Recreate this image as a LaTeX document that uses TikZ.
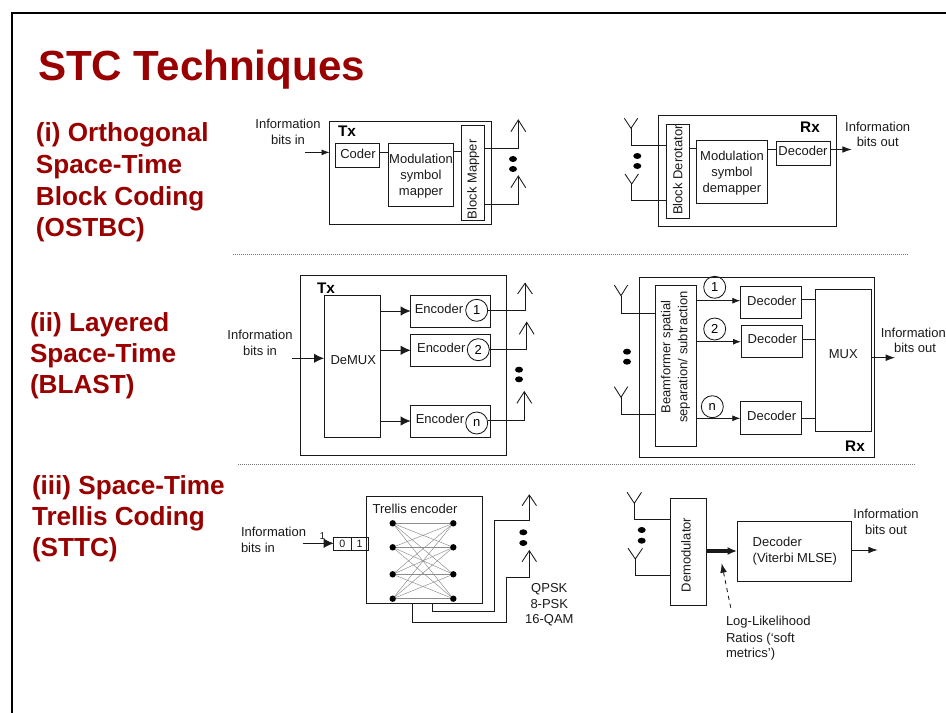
\documentclass[tikz,border=0pt]{standalone}
\usepackage{fontspec}
\setmainfont{Liberation Sans}
\usetikzlibrary{arrows.meta,calc}
\definecolor{headred}{HTML}{990000}
\definecolor{ink}{HTML}{1A1A1A}
\newcommand\smalltxt{\fontsize{9.75}{11.4}\selectfont}
\tikzset{
  boxn/.style={draw=ink,line width=0.65pt,inner sep=0pt,outer sep=0pt,align=center,font=\smalltxt},
  txt/.style={inner sep=0pt,outer sep=0pt,anchor=base,font=\smalltxt,text=ink},
  txtl/.style={txt,anchor=base west},
  bold/.style={inner sep=0pt,outer sep=0pt,anchor=base,font=\fontsize{11.5}{13}\selectfont\bfseries},
  head/.style={inner sep=0pt,outer sep=0pt,anchor=base west,text=headred,font=\fontsize{19.6}{23}\selectfont\bfseries},
  wire/.style={draw=ink,line width=0.65pt},
  arr/.style={wire,-{Latex[length=6pt,width=4.5pt]}},
  barr/.style={wire,-{Latex[length=7.5pt,width=7pt]}},
  circ/.style={circle,draw=ink,line width=0.65pt,inner sep=0pt,outer sep=0pt,minimum size=16.5pt,font=\smalltxt},
  tdot/.style={circle,fill=black,inner sep=0pt,outer sep=0pt,minimum size=4.8pt},
  tedge/.style={draw=black!45,line width=0.35pt},
  sep/.style={draw=black!55,line width=0.6pt,dash pattern=on 0.75pt off 0.75pt},
}
\newcommand\bx[6][]{%
  \pgfmathsetmacro\bw{((#4)-(#2))*0.75}%
  \pgfmathsetmacro\bh{((#5)-(#3))*0.75}%
  \pgfmathsetmacro\bcx{((#2)+(#4))/2}%
  \pgfmathsetmacro\bcy{((#3)+(#5))/2}%
  \node[boxn,minimum width=\bw pt,minimum height=\bh pt,#1] (#6) at (\bcx,\bcy) {};}
\newcommand\ant[5]{% name x junction-y half-width arm-y
  \coordinate (#1) at (#2,#3);
  \draw[wire] ($(#1)+(-#4,0)+(0,#5-#3)$) -- (#1) -- ($(#1)+(#4,0)+(0,#5-#3)$);}
\newcommand\twodots[3]{%
  \fill[black] (#1,#2) ellipse (4 and 3);
  \fill[black] (#1,#3) ellipse (4 and 3);}
\begin{document}
\begin{tikzpicture}[x=0.75pt,y=-0.75pt]
\useasboundingbox (0,0) rectangle (946,713);
% slide frame
\coordinate (fbl) at (12,713);
\coordinate (ftl) at (12,13);
\coordinate (ftr) at (946,13);
\draw[black,line width=1.6pt] (fbl) -- (ftl) -- (ftr);
% headings
\node[head,font=\fontsize{31.6}{36}\selectfont\bfseries] (title) at (38,81) {STC Techniques};
\node[head] (h1a) at (36,142) {(i) Orthogonal};
\node[head] (h1b) at (36,173.5) {Space-Time};
\node[head] (h1c) at (36,205) {Block Coding};
\node[head] (h1d) at (36,236) {(OSTBC)};
\node[head] (h2a) at (30,331) {(ii) Layered};
\node[head] (h2b) at (30,362) {Space-Time};
\node[head] (h2c) at (30,393) {(BLAST)};
\node[head] (h3a) at (32,494) {(iii) Space-Time};
\node[head] (h3b) at (32,525) {Trellis Coding};
\node[head] (h3c) at (32,556) {(STTC)};
% separators
\coordinate (s1a) at (233,254); \coordinate (s1b) at (909,254);
\coordinate (s2a) at (238,464); \coordinate (s2b) at (915,464);
\draw[sep] (s1a) -- (s1b);
\draw[sep] (s2a) -- (s2b);

%%% Section 1 Tx
\bx{329.5}{121.7}{491.7}{224.3}{tx1}
\bx{335.7}{143.7}{379.7}{167.3}{coder}
\bx{388.3}{143.7}{453.3}{206}{modm}
\bx{461.7}{125.7}{484.3}{220}{bmap}
\node[bold] (tx1l) at (347,136.7) {Tx};
\node[txt] (coderl) at (358,159) {Coder};
\node[txt] (modl1) at (421,164) {Modulation};
\node[txt] (modl2) at (421,180) {symbol};
\node[txt] (modl3) at (421,195.5) {mapper};
\node[txt,anchor=center,rotate=90] (bmapl) at (473.3,179.3) {Block Mapper};
\node[txt] (in1a) at (288,129) {Information};
\node[txt] (in1b) at (288,144.3) {bits in};
\coordinate (in1) at (305,152.4);
\draw[arr] (in1) -- (tx1.west |- in1);
\draw[wire] (coder.east |- 0,152.3) -- (modm.west |- 0,152.3);
\draw[wire] (modm.east |- 0,151.7) -- (bmap.west |- 0,151.7);
\ant{a1}{518.3}{120}{7.4}{131.7}
\ant{a2}{518.3}{176}{7.4}{187.7}
\draw[wire] (bmap.east |- 0,148) -| (a1);
\draw[wire] (bmap.east |- 0,204) -| (a2);
\twodots{513}{159}{169}

%%% Section 1 Rx
\bx{658}{115.3}{836.7}{226.7}{rx1}
\bx{666.3}{124.7}{689.7}{218.3}{bder}
\bx{696.7}{140.7}{767.3}{203.3}{dem}
\bx{776.7}{141.3}{830}{165.3}{dec1}
\node[bold] (rx1l) at (810,133) {Rx};
\node[txt,anchor=center,rotate=90] (bderl) at (677.7,170) {Block Derotator};
\node[txt] (deml1) at (732,160.5) {Modulation};
\node[txt] (deml2) at (732,176.5) {symbol};
\node[txt] (deml3) at (732,192.5) {demapper};
\node[txt] (dec1l) at (803,156) {Decoder};
\node[txt] (out1a) at (877.7,131.7) {Information};
\node[txt] (out1b) at (877.7,146.7) {bits out};
\draw[wire] (bder.east |- 0,148.7) -- (dem.west |- 0,148.7);
\draw[wire] (dem.east |- 0,149.3) -- (dec1.west |- 0,149.3);
\coordinate (o1) at (851.7,149.5);
\draw[arr,-{Latex[length=7pt,width=5pt]}] (dec1.east |- o1) -- (o1);
\ant{b1}{631}{128.3}{6.7}{118.3}
\ant{b2}{631.7}{184}{6.7}{174}
\draw[wire] (b1) |- (bder.west |- 0,145);
\draw[wire] (b2) |- (bder.west |- 0,200);
\twodots{637.3}{156}{166}

%%% Section 2 Tx
\bx{300.3}{275}{506.7}{455}{tx2}
\bx{324}{295.3}{380}{437.7}{demux}
\bx{410.7}{295.3}{490}{327.3}{e1}
\bx{410.7}{334.3}{490}{366.3}{e2}
\bx{410.7}{405.7}{490}{437.3}{en}
\node[bold] (tx2l) at (326,293) {Tx};
\node[txt] (demuxl) at (353.3,364.3) {DeMUX};
\node[txt] (e1l) at (439,313.3) {Encoder};
\node[txt] (e2l) at (441.3,352.7) {Encoder};
\node[txt] (enl) at (440,423.3) {Encoder};
\node[circ] (c1) at (476.7,310.3) {1};
\node[circ] (c2) at (478.3,349.7) {2};
\node[circ] (cn) at (476.7,423) {n};
\node[txt] (in2a) at (260,339) {Information};
\node[txt] (in2b) at (260,355) {bits in};
\coordinate (in2) at (292.3,358.3);
\draw[barr] (in2) -- (demux.west |- in2);
\draw[barr] (demux.east |- 0,311) -- (e1.west |- 0,311);
\draw[barr] (demux.east |- 0,350.3) -- (e2.west |- 0,350.3);
\draw[barr] (demux.east |- 0,421) -- (en.west |- 0,421);
\ant{t1}{525}{283.3}{7.4}{294}
\ant{t2}{526.7}{322.3}{7.4}{334.3}
\ant{tn}{524.3}{391.7}{7.4}{403.3}
\draw[wire] (c1.east) -| (t1);
\draw[wire] (c2.east) -| (t2);
\draw[wire] (cn.east |- 0,420) -| (tn);
\twodots{519}{369.7}{379.3}

%%% Section 2 Rx
\bx{639.7}{277}{874.3}{457.3}{rx2}
\bx{655.7}{285.3}{696.3}{446.7}{beam}
\bx{740.3}{286.3}{801.7}{318.3}{d1}
\bx{741}{325.3}{802}{357.3}{d2}
\bx{740.3}{401.7}{801.7}{434}{dn}
\bx{815.7}{289.3}{871}{431.7}{mux}
\node[bold] (rx2l) at (855,451.7) {Rx};
\node[txt,anchor=center,rotate=90] (beaml1) at (667,357) {Beamformer spatial};
\node[txt,anchor=center,rotate=90] (beaml2) at (684,357) {separation/ subtraction};
\node[txt] (d1l) at (771.7,305) {Decoder};
\node[txt] (d2l) at (772.3,343.7) {Decoder};
\node[txt] (dnl) at (771.7,420.7) {Decoder};
\node[txt] (muxl) at (843.3,358.3) {MUX};
\node[circ] (r1) at (714.7,287.3) {1};
\node[circ] (r2) at (714.7,329) {2};
\node[circ] (rn) at (712.3,406.7) {n};
\draw[arr] (beam.east |- 0,300.7) -- (d1.west |- 0,300.7);
\draw[arr] (beam.east |- 0,341.7) -- (d2.west |- 0,341.7);
\draw[arr] (beam.east |- 0,418.3) -- (dn.west |- 0,418.3);
\draw[wire] (d1.east |- 0,299) -- (mux.west |- 0,299);
\draw[wire] (d2.east |- 0,339) -- (mux.west |- 0,339);
\draw[wire] (dn.east |- 0,418.3) -- (mux.west |- 0,418.3);
\coordinate (o2) at (895,357.7);
\draw[arr,-{Latex[length=7pt,width=5pt]}] (mux.east |- o2) -- (o2);
\node[txt] (out2a) at (913.3,337) {Information};
\node[txt] (out2b) at (915,352) {bits out};
\ant{q1}{621}{295.7}{6.7}{285}
\ant{q2}{621}{397.3}{6.7}{386.7}
\draw[wire] (q1) |- (beam.west |- 0,313.3);
\draw[wire] (q2) |- (beam.west |- 0,414.7);
\twodots{627}{351.7}{361.7}

%%% Section 3 Tx
\bx{366.7}{496.7}{482.3}{603.3}{trel}
\node[txt] (trell) at (415,513.3) {Trellis encoder};
\foreach \i/\yy in {1/523.3,2/547.3,3/574.3,4/598.7}{
  \node[tdot] (L\i) at (392.7,\yy) {};
  \node[tdot] (R\i) at (453.3,\yy) {};
}
\foreach \i in {1,2,3,4}{\foreach \j in {1,2,3,4}{\draw[tedge] (L\i) -- (R\j);}}
\bx{333.7}{537}{351}{550.3}{reg0}
\bx{351}{537}{368}{550.3}{reg1}
\node[font=\fontsize{8}{9}\selectfont,inner sep=0pt,text=ink] (reg0l) at (reg0.center) {0};
\node[font=\fontsize{8}{9}\selectfont,inner sep=0pt,text=ink] (reg1l) at (reg1.center) {1};
\node[txt,font=\fontsize{7.5}{9}\selectfont] (regin) at (322.3,539) {1};
\coordinate (in3) at (302.7,543.3);
\draw[barr] (in3) -- (reg0.west |- in3);
\node[txtl] (in3a) at (241,536.7) {Information};
\node[txtl] (in3b) at (241,552.7) {bits in};
\ant{u1}{529.3}{495}{7.2}{505.7}
\ant{u2}{529.3}{550.7}{7.2}{561.7}
\draw[wire] (trel.south -| 432.3,0) -- (432.3,611) -- (494.3,611) -- (494.3,520.7) -| (u1);
\draw[wire] (trel.south -| 412.7,0) -- (412.7,622.3) -- (506.7,622.3) -- (506.7,577.3) -| (u2);
\twodots{523.3}{532.3}{543}
\node[txt] (m1) at (549.3,592.3) {QPSK};
\node[txt] (m2) at (549.3,608.3) {8-PSK};
\node[txt] (m3) at (549.3,623.3) {16-QAM};

%%% Section 3 Rx
\bx{670.3}{498.7}{706}{605.7}{demod}
\bx{737.7}{521.7}{851}{581.7}{vit}
\node[txt,anchor=center,rotate=90] (demodl) at (686,555) {Demodulator};
\node[txtl] (vit1) at (752.7,546) {Decoder};
\node[txtl] (vit2) at (752.7,562.3) {(Viterbi MLSE)};
\coordinate (th) at (737,551);
\draw[wire,line width=2.3pt,-{Latex[length=7pt,width=6pt]}] (demod.east |- th) -- (th);
\coordinate (o3) at (877.7,550);
\draw[arr,-{Latex[length=7pt,width=5pt]}] (vit.east |- o3) -- (o3);
\node[txt] (out3a) at (886,518) {Information};
\node[txt] (out3b) at (886,534.3) {bits out};
\ant{v1}{634.3}{503.3}{7.2}{492.3}
\ant{v2}{635.3}{559}{7.2}{548.3}
\draw[wire] (v1) |- (demod.west |- 0,519.7);
\draw[wire] (v2) |- (demod.west |- 0,575);
\twodots{641.7}{530}{540.7}
\coordinate (llf) at (730.7,607.7);
\coordinate (llt) at (721.7,563.3);
\draw[wire,dashed,-{Latex[length=7pt,width=5pt]}] (llf) -- (llt);
\node[txtl] (ll1) at (726,625.7) {Log-Likelihood};
\node[txtl] (ll2) at (726,642.3) {Ratios (‘soft};
\node[txtl] (ll3) at (726,657.3) {metrics’)};
\end{tikzpicture}
\end{document}
